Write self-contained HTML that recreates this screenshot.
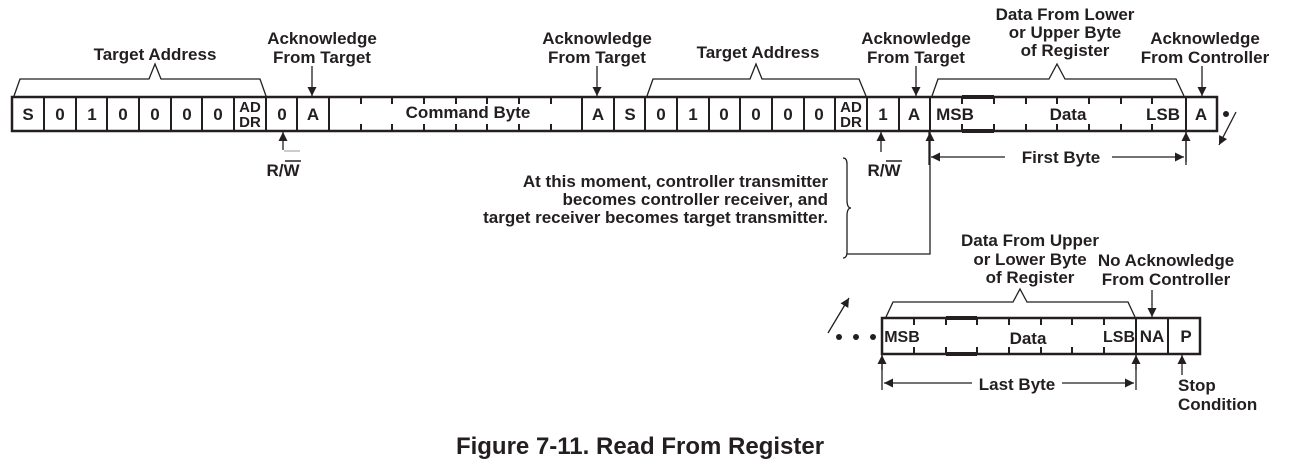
<!DOCTYPE html>
<html><head><meta charset="utf-8"><style>
body{margin:0;background:#fff}
svg{display:block}
text{font-family:"Liberation Sans",Arial,sans-serif;font-weight:bold;fill:#231f20}
</style></head><body>
<svg width="1298" height="472" viewBox="0 0 1298 472" xmlns="http://www.w3.org/2000/svg">
<defs>
<marker id="ah" viewBox="0 0 10 10" refX="10" refY="5" markerWidth="9" markerHeight="9" markerUnits="userSpaceOnUse" orient="auto"><path d="M0,0 L10,5 L0,10 z" fill="#231f20"/></marker>
</defs>
<g stroke="#231f20" fill="none">
<rect x="12" y="97" width="1205" height="34" stroke-width="2.5"/>
<g stroke-width="2">
<line x1="44" y1="97" x2="44" y2="131"/><line x1="76" y1="97" x2="76" y2="131"/><line x1="107" y1="97" x2="107" y2="131"/>
<line x1="139" y1="97" x2="139" y2="131"/><line x1="171" y1="97" x2="171" y2="131"/><line x1="202" y1="97" x2="202" y2="131"/>
<line x1="234" y1="97" x2="234" y2="131"/><line x1="266" y1="97" x2="266" y2="131"/><line x1="297" y1="97" x2="297" y2="131"/>
<line x1="329" y1="97" x2="329" y2="131"/>
<line x1="582" y1="97" x2="582" y2="131"/><line x1="614" y1="97" x2="614" y2="131"/><line x1="645" y1="97" x2="645" y2="131"/>
<line x1="677" y1="97" x2="677" y2="131"/><line x1="709" y1="97" x2="709" y2="131"/><line x1="740" y1="97" x2="740" y2="131"/>
<line x1="772" y1="97" x2="772" y2="131"/><line x1="804" y1="97" x2="804" y2="131"/><line x1="835" y1="97" x2="835" y2="131"/>
<line x1="867" y1="97" x2="867" y2="131"/><line x1="899" y1="97" x2="899" y2="131"/><line x1="930" y1="97" x2="930" y2="131"/>
<line x1="1186" y1="97" x2="1186" y2="131"/>
</g>
<g stroke-width="2">
<path d="M361,97v7M361,131v-7M392,97v7M392,131v-7M424,97v7M424,131v-7M456,97v7M456,131v-7M487,97v7M487,131v-7M519,97v7M519,131v-7M551,97v7M551,131v-7"/>
<path d="M962,97v7M962,131v-7M994,97v7M994,131v-7M1026,97v7M1026,131v-7M1057,97v7M1057,131v-7M1089,97v7M1089,131v-7M1121,97v7M1121,131v-7M1152,97v7M1152,131v-7"/>
</g>
<line x1="962" y1="97" x2="994" y2="97" stroke-width="4"/><line x1="962" y1="131" x2="994" y2="131" stroke-width="4"/>
<g stroke-width="1.3">
<path d="M14,96 L20,79 L149,79 L155,64 L161,79 L260,79 L266,96"/>
<path d="M647,96 L653,79 L750,79 L756,64 L762,79 L859,79 L866,96"/>
<path d="M932,96 L938,79 L1049,79 L1057,64 L1065,79 L1176,79 L1184,96"/>
<path d="M886,317 L893,302 L1013,302 L1020,289 L1027,302 L1128,302 L1135,317"/>
</g>
<g stroke-width="1.3">
<line x1="312" y1="66" x2="312" y2="96" marker-end="url(#ah)"/>
<line x1="597" y1="66" x2="597" y2="96" marker-end="url(#ah)"/>
<line x1="916" y1="66" x2="916" y2="96" marker-end="url(#ah)"/>
<line x1="1202" y1="66" x2="1202" y2="96" marker-end="url(#ah)"/>
<line x1="1152" y1="290" x2="1152" y2="317" marker-end="url(#ah)"/>
<line x1="283" y1="150" x2="283" y2="132" marker-end="url(#ah)"/>
<line x1="284" y1="151" x2="300" y2="151" stroke="#999" stroke-width="1"/>
<line x1="881" y1="152" x2="881" y2="132" marker-end="url(#ah)"/>
<path d="M847,254 L930,254 L930,132" marker-end="url(#ah)"/>
<line x1="1186" y1="162" x2="1186" y2="132" marker-end="url(#ah)"/>
<line x1="1005" y1="157" x2="931" y2="157" marker-end="url(#ah)"/>
<line x1="1112" y1="157" x2="1184" y2="157" marker-end="url(#ah)"/>
<line x1="1236" y1="112" x2="1219" y2="145" marker-end="url(#ah)"/>
<path d="M843,158 q4,0 4,6 v36 q0,8 4,8 q-4,0 -4,8 v36 q0,6 -4,6"/>
<line x1="828" y1="333" x2="849" y2="298" marker-end="url(#ah)"/>
<line x1="882" y1="370" x2="882" y2="355" marker-end="url(#ah)"/>
<line x1="882" y1="355" x2="882" y2="390"/>
<line x1="1136" y1="370" x2="1136" y2="355" marker-end="url(#ah)"/>
<line x1="1136" y1="355" x2="1136" y2="390"/>
<line x1="1182" y1="375" x2="1182" y2="355" marker-end="url(#ah)"/>
<line x1="972" y1="383" x2="884" y2="383" marker-end="url(#ah)"/>
<line x1="1062" y1="383" x2="1134" y2="383" marker-end="url(#ah)"/>
<line x1="929" y1="131" x2="929" y2="165"/><line x1="1186" y1="131" x2="1186" y2="165"/>
</g>
<rect x="882" y="318" width="318" height="36" stroke-width="2.5"/>
<g stroke-width="2">
<line x1="1136" y1="318" x2="1136" y2="354"/><line x1="1168" y1="318" x2="1168" y2="354"/>
<path d="M914,318v7M914,354v-7M946,318v7M946,354v-7M977,318v7M977,354v-7M1009,318v7M1009,354v-7M1041,318v7M1041,354v-7M1072,318v7M1072,354v-7M1104,318v7M1104,354v-7"/>
</g>
<line x1="946" y1="318" x2="977" y2="318" stroke-width="4"/><line x1="946" y1="354" x2="977" y2="354" stroke-width="4"/>
</g>
<g fill="#231f20"><circle cx="1226" cy="114" r="3"/><circle cx="839" cy="337" r="3"/><circle cx="856" cy="337" r="3"/><circle cx="873" cy="337" r="3"/></g>
<g font-size="17" text-anchor="middle">
<text x="28" y="120">S</text><text x="60" y="120">0</text><text x="92" y="120">1</text><text x="123" y="120">0</text>
<text x="155" y="120">0</text><text x="187" y="120">0</text><text x="218" y="120">0</text>
<text x="250" y="112" font-size="15">AD</text><text x="250" y="127" font-size="15">DR</text>
<text x="282" y="120">0</text><text x="313" y="120">A</text>
<text x="468" y="118">Command Byte</text>
<text x="598" y="120">A</text><text x="630" y="120">S</text><text x="661" y="120">0</text><text x="693" y="120">1</text>
<text x="724" y="120">0</text><text x="756" y="120">0</text><text x="788" y="120">0</text><text x="819" y="120">0</text>
<text x="851" y="112" font-size="15">AD</text><text x="851" y="127" font-size="15">DR</text>
<text x="883" y="120">1</text><text x="914" y="120">A</text>
<text x="955" y="120">MSB</text><text x="1068" y="120">Data</text><text x="1163" y="120">LSB</text>
<text x="1201" y="120">A</text>
<text x="902" y="342" font-size="16">MSB</text><text x="1028" y="344">Data</text><text x="1119" y="342" font-size="16">LSB</text>
<text x="1152" y="342">NA</text><text x="1186" y="342">P</text>
</g>
<g font-size="17" text-anchor="middle">
<text x="155" y="60">Target Address</text>
<text x="322" y="44">Acknowledge</text><text x="322" y="63">From Target</text>
<text x="597" y="44">Acknowledge</text><text x="597" y="63">From Target</text>
<text x="758" y="58">Target Address</text>
<text x="916" y="44">Acknowledge</text><text x="916" y="63">From Target</text>
<text x="1065" y="20">Data From Lower</text><text x="1065" y="38">or Upper Byte</text><text x="1065" y="56">of Register</text>
<text x="1205" y="44">Acknowledge</text><text x="1205" y="63">From Controller</text>
<text x="283" y="176">R/W</text><text x="884" y="176">R/W</text>
<text x="1061" y="163">First Byte</text>
<text x="1030" y="246">Data From Upper</text><text x="1030" y="265">or Lower Byte</text><text x="1030" y="283">of Register</text>
<text x="1166" y="266">No Acknowledge</text><text x="1166" y="285">From Controller</text>
<text x="1017" y="390">Last Byte</text>
<text x="640" y="454" font-size="24">Figure 7-11. Read From Register</text>
</g>
<g stroke="#231f20" stroke-width="1.5"><line x1="285" y1="161" x2="301" y2="161"/><line x1="886" y1="161" x2="902" y2="161"/></g>
<g font-size="17" text-anchor="end">
<text x="828" y="187">At this moment, controller transmitter</text>
<text x="828" y="205">becomes controller receiver, and</text>
<text x="828" y="223">target receiver becomes target transmitter.</text>
</g>
<g font-size="17"><text x="1178" y="391">Stop</text><text x="1178" y="410">Condition</text></g>
</svg>
</body></html>
